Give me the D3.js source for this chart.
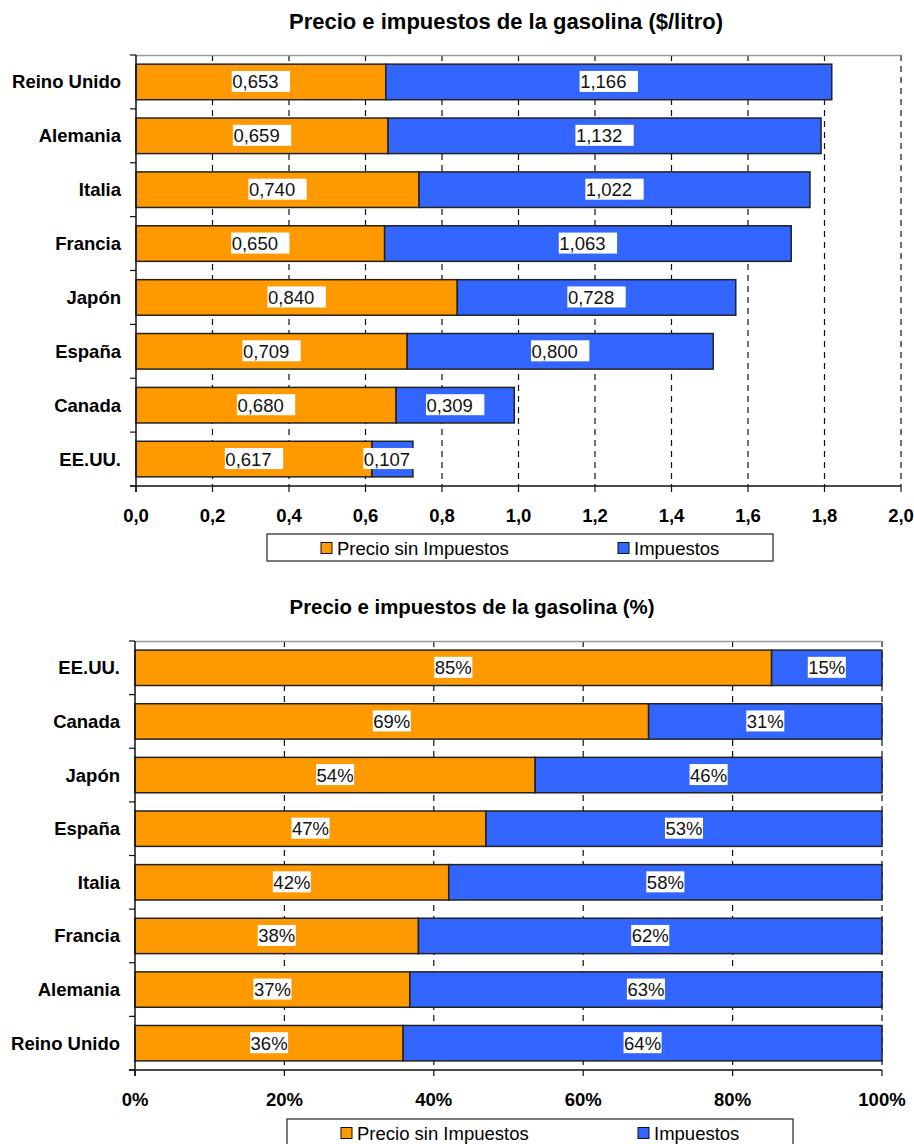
<!DOCTYPE html>
<html>
<head>
<meta charset="utf-8">
<script src="https://cdn.jsdelivr.net/npm/d3@7"></script>
<style>
  body { margin: 0; background: #fff; }
  svg { display: block; font-family: Arial, "Liberation Sans", sans-serif; }
</style>
</head>
<body>
<svg id="chart" width="914" height="1144"></svg>
<script>
// datos: precio de la gasolina ($/litro)
var paises = ['Reino Unido', 'Alemania', 'Italia', 'Francia', 'Japón', 'España', 'Canada', 'EE.UU.'];
var precioSinImpuestos = [0.653, 0.659, 0.740, 0.650, 0.840, 0.709, 0.680, 0.617];
var impuestos = [1.166, 1.132, 1.022, 1.063, 0.728, 0.800, 0.309, 0.107];
var ordenPorcentaje = ['EE.UU.', 'Canada', 'Japón', 'España', 'Italia', 'Francia', 'Alemania', 'Reino Unido'];
var series = ['Precio sin Impuestos', 'Impuestos'];
var ticksPrecio = [0, 0.2, 0.4, 0.6, 0.8, 1.0, 1.2, 1.4, 1.6, 1.8, 2.0];
var ticksPct = [0, 0.2, 0.4, 0.6, 0.8, 1.0];

var
  colores = d3.scaleOrdinal().domain(series).range(['#FF9900', '#3366FF']),
  es = d3.formatLocale({decimal: ',', thousands: '.', grouping: [3], currency: ['$', ''], percent: '%'}),
  svg = d3.select('#chart'),
  filas = paises.map((p, i) => ({pais: p, 'Precio sin Impuestos': precioSinImpuestos[i], 'Impuestos': impuestos[i]}));

function barras(cfg) {
  var
    g = svg.append('g'),
    x = d3.scaleLinear().domain(cfg.domain).range([cfg.left, cfg.right]),
    y = d3.scaleBand().domain(cfg.orden).range([cfg.top, cfg.bottom]).paddingInner(0.34).paddingOuter(0.17),
    datos = cfg.orden.map(p => filas.find(f => f.pais === p)),
    pilas = d3.stack().keys(series).offset(cfg.offset)(datos);

  g.append('text')
    .attr('x', cfg.titleX).attr('y', cfg.titleY)
    .attr('text-anchor', 'middle')
    .attr('font-size', cfg.titleSize).attr('font-weight', 'bold')
    .text(cfg.title);

  // lineas de division
  g.selectAll('.grid')
    .data(cfg.ticks.slice(1))
    .enter().append('line')
    .attr('x1', d => x(d)).attr('x2', d => x(d))
    .attr('y1', cfg.top).attr('y2', cfg.bottom)
    .attr('stroke', '#111').attr('stroke-width', 1.2)
    .attr('stroke-dasharray', '6,5');

  g.append('line')
    .attr('x1', cfg.left).attr('x2', cfg.right)
    .attr('y1', cfg.top + 0.5).attr('y2', cfg.top + 0.5)
    .attr('stroke', '#999').attr('stroke-width', 1.5);

  var capas = g.selectAll('.serie')
    .data(pilas)
    .enter().append('g')
    .attr('fill', d => colores(d.key));

  capas.selectAll('rect')
    .data(d => d)
    .enter().append('rect')
    .attr('x', d => x(d[0]))
    .attr('y', d => y(d.data.pais))
    .attr('width', d => x(d[1]) - x(d[0]))
    .attr('height', y.bandwidth())
    .attr('stroke', '#222').attr('stroke-width', 1.5);

  // etiquetas con fondo blanco
  var etiquetas = g.selectAll('.etq')
    .data(pilas.flatMap(s => s.map(d => ({d: d, key: s.key}))))
    .enter().append('g')
    .attr('transform', e => 'translate(' + ((x(e.d[0]) + x(e.d[1])) / 2) + ',' + (y(e.d.data.pais) + y.bandwidth() / 2) + ')');

  etiquetas.append('rect').attr('fill', '#fff');
  etiquetas.append('text')
    .attr('font-size', '18.5px')
    .attr('fill', '#111')
    .text(e => cfg.etiqueta(e.d, e.key));

  etiquetas.each(function() {
    var
      grupo = d3.select(this),
      w = grupo.select('text').node().getComputedTextLength(),
      caja = w + cfg.pad;
    grupo.select('text').attr('x', -caja / 2 + 0.5).attr('y', 6.5);
    grupo.select('rect').attr('x', -caja / 2).attr('y', -11).attr('width', caja).attr('height', 21);
  });

  // eje y
  g.append('line')
    .attr('x1', cfg.left).attr('x2', cfg.left)
    .attr('y1', cfg.top).attr('y2', cfg.bottom + 6)
    .attr('stroke', '#111').attr('stroke-width', 1.5);
  var cortes = d3.range(cfg.orden.length + 1).map(i => cfg.top + i * y.step());
  g.selectAll('.ytick')
    .data(cortes)
    .enter().append('line')
    .attr('x1', cfg.left - 6).attr('x2', cfg.left)
    .attr('y1', d => d).attr('y2', d => d)
    .attr('stroke', '#111').attr('stroke-width', 1.2);
  g.selectAll('.cat')
    .data(cfg.orden)
    .enter().append('text')
    .attr('x', cfg.left - 15)
    .attr('y', d => y(d) + y.bandwidth() / 2 + 6.5)
    .attr('text-anchor', 'end')
    .attr('font-size', '18.5px').attr('font-weight', 'bold')
    .text(d => d);

  // eje x
  g.append('line')
    .attr('x1', cfg.left - 6).attr('x2', cfg.right)
    .attr('y1', cfg.bottom).attr('y2', cfg.bottom)
    .attr('stroke', '#111').attr('stroke-width', 1.5);
  g.selectAll('.xtick')
    .data(cfg.ticks)
    .enter().append('line')
    .attr('x1', d => x(d)).attr('x2', d => x(d))
    .attr('y1', cfg.bottom).attr('y2', cfg.bottom + 6)
    .attr('stroke', '#111').attr('stroke-width', 1.2);
  g.selectAll('.xlab')
    .data(cfg.ticks)
    .enter().append('text')
    .attr('x', d => x(d))
    .attr('y', cfg.bottom + 36)
    .attr('text-anchor', 'middle')
    .attr('font-size', '18.5px').attr('font-weight', 'bold')
    .text(cfg.tickFormat);

  // leyenda
  var ley = g.append('g').attr('transform', 'translate(' + cfg.legendX + ',' + cfg.legendY + ')');
  ley.append('rect')
    .attr('width', 506).attr('height', 27)
    .attr('fill', '#fff').attr('stroke', '#222').attr('stroke-width', 1.2);
  var items = ley.selectAll('.item')
    .data(series)
    .enter().append('g')
    .attr('transform', (d, i) => 'translate(' + [54, 351][i] + ',0)');
  items.append('rect')
    .attr('y', 8.5).attr('width', 11).attr('height', 11)
    .attr('fill', d => colores(d)).attr('stroke', '#111').attr('stroke-width', 1);
  items.append('text')
    .attr('x', 16).attr('y', 20.5)
    .attr('font-size', '18.5px')
    .text(d => d);
}

barras({
  title: 'Precio e impuestos de la gasolina ($/litro)',
  titleX: 506, titleY: 29, titleSize: '22px',
  orden: paises,
  domain: [0, 2],
  ticks: ticksPrecio,
  offset: d3.stackOffsetNone,
  left: 136, right: 901, top: 55, bottom: 486,
  pad: 12,
  etiqueta: (d, k) => es.format('.3f')(d.data[k]),
  tickFormat: es.format('.1f'),
  legendX: 267, legendY: 534
});

barras({
  title: 'Precio e impuestos de la gasolina (%)',
  titleX: 472, titleY: 614, titleSize: '20.4px',
  orden: ordenPorcentaje,
  domain: [0, 1],
  ticks: ticksPct,
  offset: d3.stackOffsetExpand,
  left: 135, right: 882, top: 641, bottom: 1070,
  pad: 1,
  etiqueta: d => es.format('.0%')(d[1] - d[0]),
  tickFormat: es.format('.0%'),
  legendX: 287, legendY: 1119
});
</script>
</body>
</html>
